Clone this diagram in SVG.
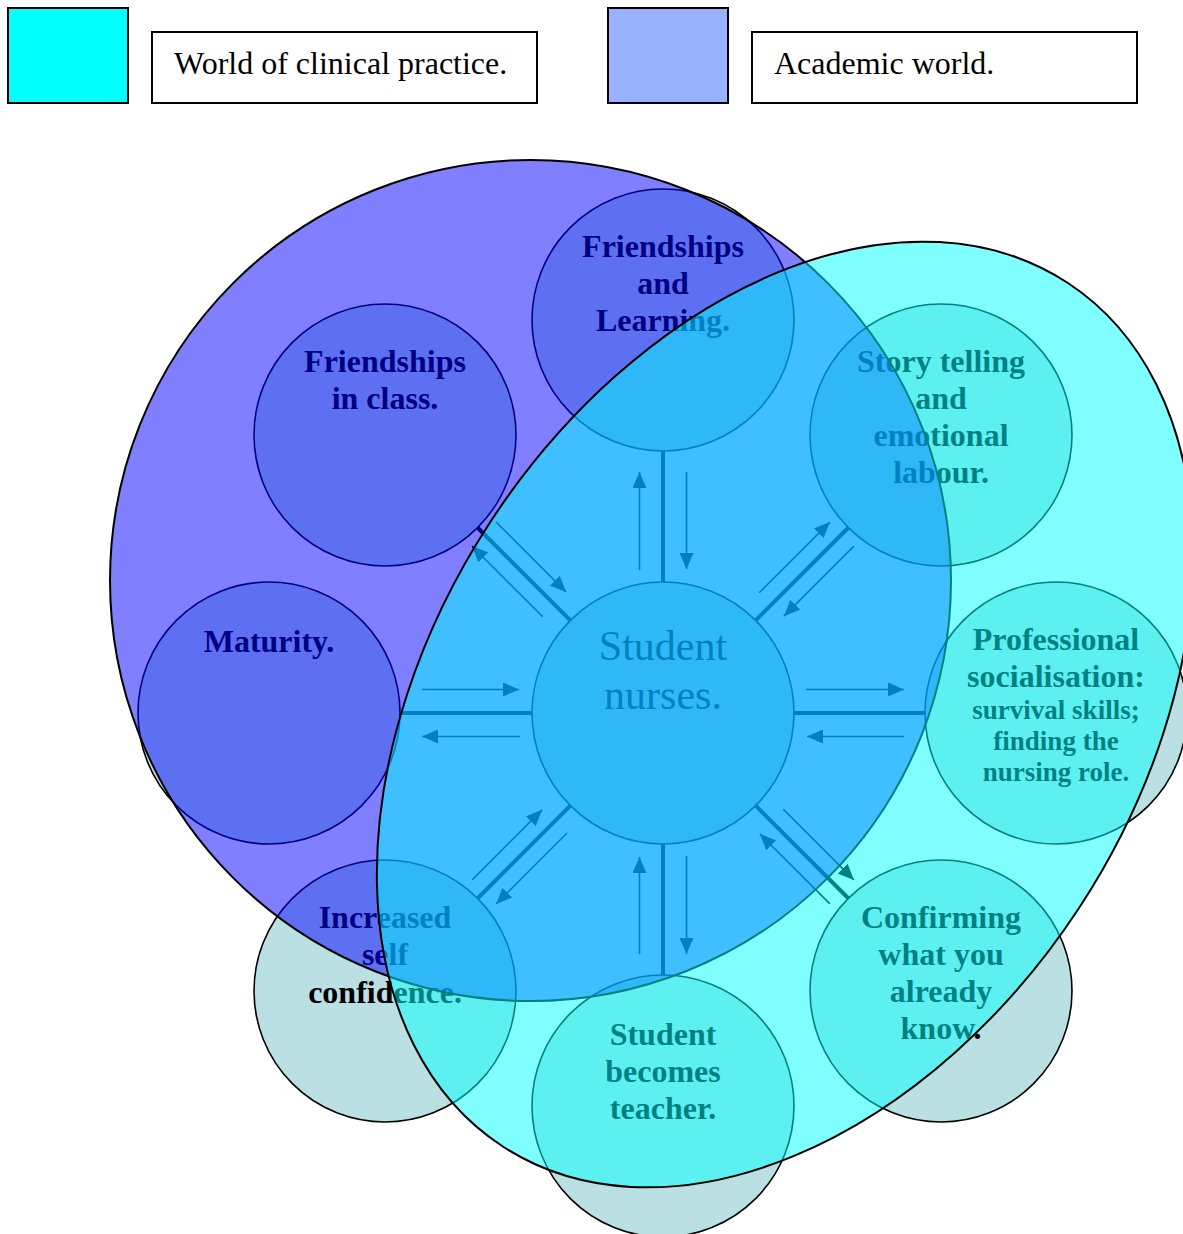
<svg xmlns="http://www.w3.org/2000/svg" xmlns:xlink="http://www.w3.org/1999/xlink" width="1183" height="1234" viewBox="0 0 1183 1234">
  <style>
    .legend-swatch { stroke: #000; stroke-width: 2; }
    .legend-box { fill: #fff; stroke: #000; stroke-width: 2; }
    .legend-text { font-family: "Liberation Serif", "Times New Roman", serif; font-size: 32px; fill: #000; }
    .topic { fill: #bbe0e3; stroke: #000; stroke-width: 1.6; }
    .label { font-family: "Liberation Serif", "Times New Roman", serif; font-weight: bold; font-size: 32px; fill: #000; text-anchor: middle; }
    .label-sm { font-size: 27px; }
    .hub-label { font-family: "Liberation Serif", "Times New Roman", serif; font-size: 42px; fill: #000; text-anchor: middle; }
    .spoke { stroke: #000; stroke-width: 4; fill: none; }
    .flow { stroke: #000; stroke-width: 1.6; fill: none; marker-end: url(#head); }
    .region { stroke: #000; stroke-width: 2; }
  </style>
  <defs>
    <marker id="head" viewBox="0 0 16 14" refX="16" refY="7" markerWidth="16" markerHeight="14" markerUnits="userSpaceOnUse" orient="auto">
      <path d="M0,0 L16,7 L0,14 z" fill="#000"/>
    </marker>
    <!-- straight spoke (drawn pointing up from the hub); rotated by 90° steps -->
    <g id="spoke-straight">
      <line class="spoke" x1="663" y1="582" x2="663" y2="451"/>
      <line class="flow" x1="639.5" y1="570" x2="639.5" y2="472"/>
      <line class="flow" x1="686.5" y1="472" x2="686.5" y2="569"/>
    </g>
    <!-- diagonal spoke (drawn pointing up, then turned by 45° + 90° steps) -->
    <g id="spoke-diagonal">
      <line class="spoke" x1="663" y1="582" x2="663" y2="451"/>
      <line class="flow" x1="646" y1="560" x2="646" y2="460"/>
      <line class="flow" x1="680" y1="460" x2="680" y2="559"/>
    </g>
  </defs>

  <!-- legend -->
  <g id="legend-clinical">
    <rect class="legend-swatch" x="8" y="8" width="120" height="95" fill="#00ffff"/>
    <rect class="legend-box" x="152" y="32" width="385" height="71"/>
    <text class="legend-text" x="174" y="74">World of clinical practice.</text>
  </g>
  <g id="legend-academic">
    <rect class="legend-swatch" x="608" y="8" width="120" height="95" fill="#99b2ff"/>
    <rect class="legend-box" x="752" y="32" width="385" height="71"/>
    <text class="legend-text" x="774" y="74">Academic world.</text>
  </g>

  <!-- topic circles -->
  <g id="node-hub">
    <circle class="topic" cx="663" cy="713" r="131"/>
    <text class="hub-label" x="663" y="660">Student</text>
    <text class="hub-label" x="663" y="709">nurses.</text>
  </g>
  <g id="node-friendships-learning">
    <circle class="topic" cx="663" cy="320" r="131"/>
    <text class="label" x="663" y="257">Friendships</text>
    <text class="label" x="663" y="294">and</text>
    <text class="label" x="663" y="331">Learning.</text>
  </g>
  <g id="node-friendships-class">
    <circle class="topic" cx="385" cy="435" r="131"/>
    <text class="label" x="385" y="372">Friendships</text>
    <text class="label" x="385" y="409">in class.</text>
  </g>
  <g id="node-story-telling">
    <circle class="topic" cx="941" cy="435" r="131"/>
    <text class="label" x="941" y="372">Story telling</text>
    <text class="label" x="941" y="409">and</text>
    <text class="label" x="941" y="446">emotional</text>
    <text class="label" x="941" y="483">labour.</text>
  </g>
  <g id="node-maturity">
    <circle class="topic" cx="269" cy="713" r="131"/>
    <text class="label" x="269" y="652">Maturity.</text>
  </g>
  <g id="node-professional">
    <circle class="topic" cx="1056" cy="713" r="131"/>
    <text class="label" x="1056" y="650">Professional</text>
    <text class="label" x="1056" y="687">socialisation:</text>
    <text class="label label-sm" x="1056" y="719">survival skills;</text>
    <text class="label label-sm" x="1056" y="750">finding the</text>
    <text class="label label-sm" x="1056" y="781">nursing role.</text>
  </g>
  <g id="node-confidence">
    <circle class="topic" cx="385" cy="991" r="131"/>
    <text class="label" x="385" y="928">Increased</text>
    <text class="label" x="385" y="965">self</text>
    <text class="label" x="385" y="1003">confidence.</text>
  </g>
  <g id="node-confirming">
    <circle class="topic" cx="941" cy="991" r="131"/>
    <text class="label" x="941" y="928">Confirming</text>
    <text class="label" x="941" y="965">what you</text>
    <text class="label" x="941" y="1002">already</text>
    <text class="label" x="941" y="1039">know.</text>
  </g>
  <g id="node-teacher">
    <circle class="topic" cx="663" cy="1106" r="131"/>
    <text class="label" x="663" y="1045">Student</text>
    <text class="label" x="663" y="1082">becomes</text>
    <text class="label" x="663" y="1119">teacher.</text>
  </g>

  <!-- connectors: two-way flows between the hub and each topic -->
  <g id="connectors">
    <use xlink:href="#spoke-straight"/>
    <use xlink:href="#spoke-diagonal" transform="rotate(45 663 713)"/>
    <use xlink:href="#spoke-straight" transform="rotate(90 663 713)"/>
    <use xlink:href="#spoke-diagonal" transform="rotate(135 663 713)"/>
    <use xlink:href="#spoke-straight" transform="rotate(180 663 713)"/>
    <use xlink:href="#spoke-diagonal" transform="rotate(225 663 713)"/>
    <use xlink:href="#spoke-straight" transform="rotate(270 663 713)"/>
    <use xlink:href="#spoke-diagonal" transform="rotate(315 663 713)"/>
  </g>

  <!-- translucent worlds laid over the topics -->
  <g id="academic-world">
    <circle class="region" cx="530.5" cy="580.5" r="420.5" fill="#0000ff" fill-opacity="0.5"/>
  </g>
  <g id="clinical-world">
    <ellipse class="region" cx="785" cy="714.5" rx="516" ry="352" transform="rotate(-56.8 785 714.5)" fill="#00ffff" fill-opacity="0.5"/>
  </g>
</svg>
